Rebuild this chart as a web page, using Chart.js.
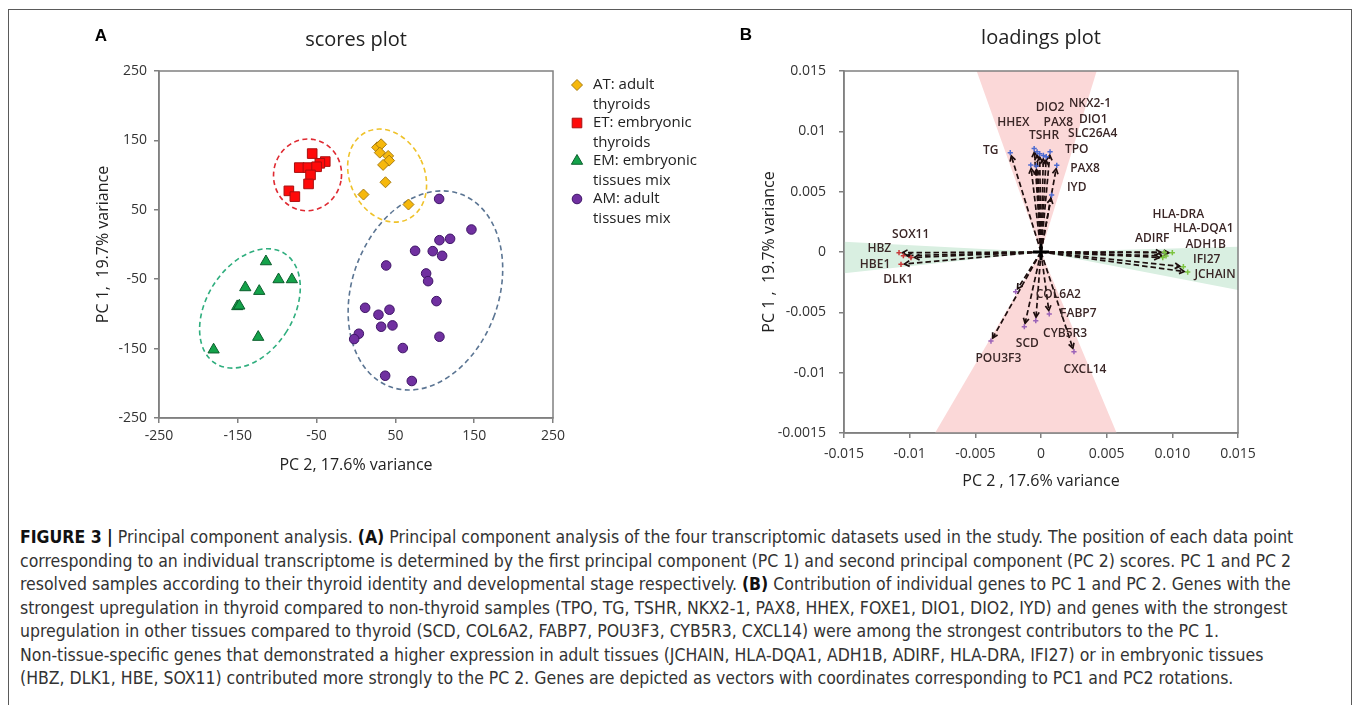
<!DOCTYPE html>
<html>
<head>
<meta charset="utf-8">
<script src="https://cdn.jsdelivr.net/npm/chart.js@4.4.1/dist/chart.umd.min.js"></script>
<style>
  html,body{margin:0;padding:0;background:#fff;}
  body{width:1358px;height:705px;position:relative;overflow:hidden;}
  #frame{position:absolute;left:8px;top:9px;width:1342px;height:720px;border:1.5px solid #5a5a5a;}
  #wrapA{position:absolute;left:0;top:0;width:700px;height:500px;}
  #wrapB{position:absolute;left:700px;top:0;width:658px;height:500px;}
  #caption{position:absolute;left:20px;top:526px;font-family:"DejaVu Sans Condensed","DejaVu Sans",sans-serif;font-stretch:condensed;font-size:17.5px;line-height:23.5px;color:#333;white-space:nowrap;}
  #caption b{color:#111;}
</style>
</head>
<body>
<div id="frame"></div>
<div id="wrapA"><canvas id="cA" width="700" height="500"></canvas></div>
<div id="wrapB"><canvas id="cB" width="658" height="500"></canvas></div>
<div id="caption">
<div><b>FIGURE 3 |</b> Principal component analysis. <b>(A)</b> Principal component analysis of the four transcriptomic datasets used in the study. The position of each data point</div>
<div>corresponding to an individual transcriptome is determined by the first principal component (PC 1) and second principal component (PC 2) scores. PC 1 and PC 2</div>
<div>resolved samples according to their thyroid identity and developmental stage respectively. <b>(B)</b> Contribution of individual genes to PC 1 and PC 2. Genes with the</div>
<div>strongest upregulation in thyroid compared to non-thyroid samples (TPO, TG, TSHR, NKX2-1, PAX8, HHEX, FOXE1, DIO1, DIO2, IYD) and genes with the strongest</div>
<div>upregulation in other tissues compared to thyroid (SCD, COL6A2, FABP7, POU3F3, CYB5R3, CXCL14) were among the strongest contributors to the PC 1.</div>
<div>Non-tissue-specific genes that demonstrated a higher expression in adult tissues (JCHAIN, HLA-DQA1, ADH1B, ADIRF, HLA-DRA, IFI27) or in embryonic tissues</div>
<div>(HBZ, DLK1, HBE, SOX11) contributed more strongly to the PC 2. Genes are depicted as vectors with coordinates corresponding to PC1 and PC2 rotations.</div>
</div>
<script>
// ---------------- Panel A: scores (PC 2 on x, PC 1 on y) ----------------
const scoreSeriesNames = ['AT: adult thyroids', 'ET: embryonic thyroids', 'EM: embryonic tissues mix', 'AM: adult tissues mix'];
const scoreLegendLines = [['AT: adult', 'thyroids'], ['ET: embryonic', 'thyroids'], ['EM: embryonic', 'tissues mix'], ['AM: adult', 'tissues mix']];
const atScores = [[26.8,140],[31.9,144.4],[30.2,132.4],[40.8,127.6],[42,120.9],[34.4,114.7],[37.4,89.7],[9.5,72],[66.6,57.6]];
const etScores = [[-55.6,131],[-39,119.5],[-45.9,117],[-72,110.8],[-61,110.8],[-50,112],[-57.7,100.3],[-60.2,87.3],[-85.2,77.3],[-77.6,69]];
const emScores = [[-114.3,-24.5],[-98.3,-50.4],[-81.4,-50.4],[-140.5,-61.9],[-122.8,-67.2],[-150.7,-89.2],[-148.1,-88.3],[-124.1,-133.4],[-180.7,-151.6]];
const amScores = [[105.5,65.7],[146.5,21.6],[105.9,6.2],[119.4,8.2],[75,-9.1],[97.4,-9.6],[109.3,-16.3],[38.3,-30.2],[89,-41.7],[91.5,-52.8],[102.1,-81.6],[11.6,-91.2],[42.5,-94],[28.5,-101.2],[31.9,-118.5],[46.3,-116.6],[3.6,-128.6],[-2.3,-136.3],[105.9,-132.9],[59.4,-149.2],[37,-189.1],[70.8,-196.7]];
const scoreTicks = [-250, -150, -50, 50, 150, 250];

// ---------------- Panel B: loadings ----------------
const thyroidGenes = ['TG','HHEX','DIO2','TSHR','PAX8','NKX2-1','DIO1','SLC26A4','TPO','PAX8','IYD'];
const thyroidPC2 = [-0.00234,-0.00052,-0.00030,-0.00010,0.00018,0.00069,-0.00078,-0.00036,0.00040,0.00120,0.00081];
const thyroidPC1 = [0.00823,0.00857,0.00830,0.00815,0.00800,0.00831,0.00721,0.00713,0.00790,0.00718,0.00472];
const embryonicGenes = ['HBZ','SOX11','HBE1','DLK1'];
const embryonicPC2 = [-0.01081,-0.01048,-0.00990,-0.01066];
const embryonicPC1 = [-0.00006,-0.00031,-0.00046,-0.00102];
const adultGenes = ['ADIRF','HLA-DRA','HLA-DQA1','ADH1B','IFI27','JCHAIN'];
const adultPC2 = [0.00939,0.01000,0.00952,0.00927,0.01084,0.01117];
const adultPC1 = [-0.00002,-0.00006,-0.00033,-0.00046,-0.00122,-0.00166];
const otherGenes = ['COL6A2','FABP7','CYB5R3','SCD','POU3F3','CXCL14'];
const otherPC2 = [-0.00193,0.00063,-0.00040,-0.00127,-0.00381,0.00251];
const otherPC1 = [-0.00329,-0.00514,-0.00569,-0.00619,-0.00738,-0.00826];
const loadingTicks = [-0.015,-0.01,-0.005,0,0.005,0.01,0.015];
const loadingXTickLabels = ['-0.015','-0.01','-0.005','0','0.005','0.010','0.015'];
const loadingYTickLabels = ['-0.0015','-0.01','-0.005','0','0.005','0.01','0.015'];

// ---------------- annotation geometry (not data) ----------------
const groupEllipses = [
  {cx:39.5, cy:99.3, rx:47.3, ry:61.3, rot:-25, color:'#efc22a'},
  {cx:-61.5, cy:100.3, rx:43.1, ry:45.6, rot:10, color:'#df2a32'},
  {cx:-134.6, cy:-92.1, rx:55, ry:82.4, rot:32, color:'#2fae7e'},
  {cx:88.1, cy:-66.2, rx:93, ry:130.2, rot:20, color:'#5b7593'}
];
const pinkWedges = [[[0,0],[-0.0049,0.015],[0.00424,0.015]], [[0,0],[-0.00807,-0.015],[0.00576,-0.015]]];
const greenWedges = [[[0,0],[-0.015,0.00085],[-0.015,-0.00177]], [[0,0],[0.015,0.00044],[0.015,-0.00315]]];
const labelAnchors = {
  thyroid: [[-0.00383,0.00839],[-0.00211,0.01072],[0.00069,0.01196],[0.00023,0.00967],[0.00132,0.01072],[0.00373,0.01226],[0.00398,0.01100],[0.00394,0.00978],[0.00272,0.00845],[0.00335,0.00688],[0.00272,0.00533]],
  embryonic: [[-0.01231,0.00027],[-0.00992,0.00147],[-0.01264,-0.00102],[-0.01087,-0.00232]],
  adult: [[0.00847,0.00114],[0.01045,0.00312],[0.01236,0.00196],[0.01254,0.00064],[0.01262,-0.00060],[0.01325,-0.00191]],
  other: [[0.00132,-0.00356],[0.00284,-0.00508],[0.00183,-0.00680],[-0.00104,-0.00762],[-0.00325,-0.00881],[0.00335,-0.00972]]
};

const FONT = "'Open Sans', 'DejaVu Sans', sans-serif";
const AXIS = '#808080';

function toXY(pairs){ return pairs.map(p => ({x:p[0], y:p[1]})); }
function zipXY(xs, ys){ return xs.map((v,i) => ({x:v, y:ys[i]})); }

const boxPlugin = {
  id:'boxFrame',
  afterDraw(chart, args, opts){
    const {ctx, chartArea:a} = chart;
    ctx.save();
    ctx.strokeStyle = AXIS; ctx.lineWidth = 1.5;
    ctx.strokeRect(a.left, a.top, a.right - a.left, a.bottom - a.top);
    ctx.fillStyle = '#222';
    ctx.textAlign = 'center'; ctx.textBaseline = 'middle';
    ctx.font = "20px " + FONT;
    ctx.fillText(opts.title, (a.left + a.right)/2, opts.titleY);
    ctx.font = "bold 17px 'Liberation Sans', Arial, sans-serif";
    ctx.fillStyle = '#000';
    ctx.fillText(opts.letter, opts.letterX, opts.letterY);
    ctx.restore();
  }
};

function scaleOpts(min, max, ticks, labels, fitSize, isX, title, titlePad, tickPad){
  return {
    type:'linear', min:min, max:max,
    afterBuildTicks: s => { s.ticks = ticks.map(v => ({value:v})); },
    afterFit: s => {
      if (isX) { s.height = fitSize; } else { s.width = fitSize; }
      s.paddingLeft = 0; s.paddingRight = 0; s.paddingTop = 0; s.paddingBottom = 0;
    },
    ticks:{
      autoSkip:false, maxRotation:0, padding:tickPad, color:'#333',
      font:{family:FONT, size:14},
      callback: labels ? ((v, i) => labels[i]) : undefined
    },
    grid:{drawOnChartArea:false, drawTicks:true, tickLength:5, color:AXIS, lineWidth:1.5},
    border:{display:true, color:AXIS, width:1.5},
    title:{display:true, text:title, color:'#222', font:{family:FONT, size:16}, padding:titlePad}
  };
}

// ----- Chart A -----
const ellipsePlugin = {
  id:'groupEllipses',
  beforeDatasetsDraw(chart){
    const {ctx, scales:{x, y}} = chart;
    const k = Math.abs(x.getPixelForValue(1) - x.getPixelForValue(0));
    groupEllipses.forEach(e => {
      ctx.save();
      ctx.strokeStyle = e.color; ctx.lineWidth = 1.6; ctx.setLineDash([5, 3.5]);
      ctx.beginPath();
      ctx.ellipse(x.getPixelForValue(e.cx), y.getPixelForValue(e.cy), e.rx*k, e.ry*k, e.rot*Math.PI/180, 0, 2*Math.PI);
      ctx.stroke();
      ctx.restore();
    });
  }
};

const legendPlugin = {
  id:'sideLegend',
  afterDraw(chart){
    const {ctx, chartArea:a} = chart;
    ctx.save();
    chart.data.datasets.forEach((ds, i) => {
      const y0 = 85 + i*38;
      ctx.fillStyle = ds.backgroundColor; ctx.strokeStyle = ds.borderColor; ctx.lineWidth = ds.borderWidth;
      Chart.helpers.drawPoint(ctx, {pointStyle:ds.pointStyle, radius:ds.pointRadius, rotation:0, borderWidth:ds.borderWidth}, a.right + 24, y0);
      ctx.fillStyle = '#222'; ctx.font = "15px " + FONT; ctx.textAlign = 'left'; ctx.textBaseline = 'middle';
      scoreLegendLines[i].forEach((t, j) => ctx.fillText(t, a.right + 40, y0 + j*19.5));
    });
    ctx.restore();
  }
};

new Chart(document.getElementById('cA'), {
  type:'scatter',
  data:{datasets:[
    {label:scoreSeriesNames[0], data:toXY(atScores), pointStyle:'rectRot', pointRadius:5.5, backgroundColor:'#f6b80c', borderColor:'#a87c10', borderWidth:1},
    {label:scoreSeriesNames[1], data:toXY(etScores), pointStyle:'rect', pointRadius:6.8, backgroundColor:'#ff0a0a', borderColor:'#a81010', borderWidth:1},
    {label:scoreSeriesNames[2], data:toXY(emScores), pointStyle:'triangle', pointRadius:6.5, backgroundColor:'#14a24a', borderColor:'#0b5e2c', borderWidth:1},
    {label:scoreSeriesNames[3], data:toXY(amScores), pointStyle:'circle', pointRadius:4.8, backgroundColor:'#7030a0', borderColor:'#3e1566', borderWidth:1}
  ]},
  options:{
    responsive:false, animation:false, events:[],
    layout:{padding:{left:80, right:147, top:71, bottom:22}},
    plugins:{legend:{display:false}, tooltip:{enabled:false},
      boxFrame:{title:'scores plot', titleY:40, letter:'A', letterX:101, letterY:36}},
    scales:{
      x: scaleOpts(-250, 250, scoreTicks, null, 60, true, 'PC 2, 17.6% variance', {top:0, bottom:3}, 5),
      y: scaleOpts(-250, 250, scoreTicks, null, 79, false, 'PC 1,  19.7% variance', {top:14, bottom:0}, 7)
    }
  },
  plugins:[ellipsePlugin, legendPlugin, boxPlugin]
});

// ----- Chart B -----
const groups = [
  {names:thyroidGenes, xs:thyroidPC2, ys:thyroidPC1, anchors:labelAnchors.thyroid, color:'#4d6bd0'},
  {names:embryonicGenes, xs:embryonicPC2, ys:embryonicPC1, anchors:labelAnchors.embryonic, color:'#c83a3a'},
  {names:adultGenes, xs:adultPC2, ys:adultPC1, anchors:labelAnchors.adult, color:'#7cc440'},
  {names:otherGenes, xs:otherPC2, ys:otherPC1, anchors:labelAnchors.other, color:'#9a62b8'}
];

function drawArrow(ctx, x0, y0, x1, y1){
  const dx = x1 - x0, dy = y1 - y0, L = Math.hypot(dx, dy);
  const ux = dx/L, uy = dy/L;
  const tx = x1 - ux*3.5, ty = y1 - uy*3.5;
  ctx.setLineDash([5.5, 3]);
  ctx.beginPath(); ctx.moveTo(x0, y0); ctx.lineTo(tx, ty); ctx.stroke();
  ctx.setLineDash([]);
  const ah = 5, aw = 2.8;
  ctx.beginPath();
  ctx.moveTo(tx - ux*ah - uy*aw, ty - uy*ah + ux*aw);
  ctx.lineTo(tx, ty);
  ctx.lineTo(tx - ux*ah + uy*aw, ty - uy*ah - ux*aw);
  ctx.stroke();
}

const loadingsPlugin = {
  id:'loadingsDecor',
  beforeDatasetsDraw(chart){
    const {ctx, chartArea:a, scales:{x, y}} = chart;
    ctx.save();
    ctx.beginPath(); ctx.rect(a.left, a.top, a.right - a.left, a.bottom - a.top); ctx.clip();
    const fillPoly = (poly, col) => {
      ctx.fillStyle = col; ctx.beginPath();
      poly.forEach((p, i) => { const px = x.getPixelForValue(p[0]), py = y.getPixelForValue(p[1]); if (i) ctx.lineTo(px, py); else ctx.moveTo(px, py); });
      ctx.closePath(); ctx.fill();
    };
    greenWedges.forEach(p => fillPoly(p, '#d9efe1'));
    pinkWedges.forEach(p => fillPoly(p, '#fbd8d8'));
    const ox = x.getPixelForValue(0), oy = y.getPixelForValue(0);
    ctx.strokeStyle = '#1e0e0e'; ctx.lineWidth = 1.7;
    groups.forEach(g => g.xs.forEach((v, i) => drawArrow(ctx, ox, oy, x.getPixelForValue(v), y.getPixelForValue(g.ys[i]))));
    ctx.restore();
  },
  afterDatasetsDraw(chart){
    const {ctx, scales:{x, y}} = chart;
    const ox = x.getPixelForValue(0), oy = y.getPixelForValue(0);
    ctx.save();
    ctx.strokeStyle = '#000'; ctx.lineWidth = 3;
    ctx.beginPath(); ctx.moveTo(ox - 8, oy); ctx.lineTo(ox + 8, oy); ctx.moveTo(ox, oy - 8); ctx.lineTo(ox, oy + 8); ctx.stroke();
    ctx.fillStyle = '#3a2626'; ctx.font = "600 12px " + FONT; ctx.textAlign = 'center'; ctx.textBaseline = 'middle';
    groups.forEach(g => g.names.forEach((n, i) => ctx.fillText(n, x.getPixelForValue(g.anchors[i][0]), y.getPixelForValue(g.anchors[i][1]))));
    ctx.restore();
  }
};

new Chart(document.getElementById('cB'), {
  type:'scatter',
  data:{datasets: groups.map(g => ({
    label:g.names.join(', '), data:zipXY(g.xs, g.ys), pointStyle:'cross', pointRadius:2.6,
    borderColor:g.color, backgroundColor:g.color, borderWidth:1.5
  }))},
  options:{
    responsive:false, animation:false, events:[],
    layout:{padding:{left:44, right:120, top:71, bottom:7}},
    plugins:{legend:{display:false}, tooltip:{enabled:false},
      boxFrame:{title:'loadings plot', titleY:38, letter:'B', letterX:46, letterY:35}},
    scales:{
      x: scaleOpts(-0.015, 0.015, loadingTicks, loadingXTickLabels, 60, true, 'PC 2 , 17.6% variance', {top:0, bottom:1.5}, 8),
      y: scaleOpts(-0.015, 0.015, loadingTicks, loadingYTickLabels, 100, false, 'PC 1 ,  19.7% variance', {top:16, bottom:0}, 13)
    }
  },
  plugins:[loadingsPlugin, boxPlugin]
});
</script>
</body>
</html>
